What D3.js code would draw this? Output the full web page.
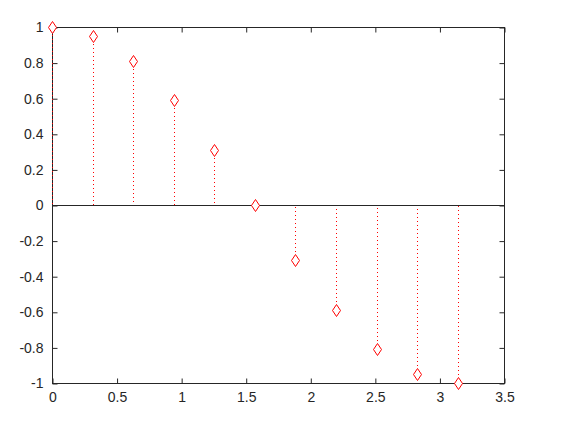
<!DOCTYPE html>
<html>
<head>
<meta charset="utf-8">
<script src="https://cdn.jsdelivr.net/npm/d3@7"></script>
<style>
  body { margin: 0; background: #fff; }
</style>
</head>
<body>
<div id="chart"></div>
<script>
// 標本点とその値 (cos x, 0..pi を11点)
var xVals = [0, 0.3142, 0.6283, 0.9425, 1.2566, 1.5708, 1.8850, 2.1991, 2.5133, 2.8274, 3.1416];
var yVals = [1, 0.951, 0.809, 0.588, 0.309, 0, -0.309, -0.588, -0.809, -0.951, -1];
var xTicks = [0, 0.5, 1, 1.5, 2, 2.5, 3, 3.5];
var yTicks = [-1, -0.8, -0.6, -0.4, -0.2, 0, 0.2, 0.4, 0.6, 0.8, 1];

var W = 570, H = 423;
var margin = {top: 27, right: 66, bottom: 40, left: 52};
var axisColor = "#262626";

var svg = d3.select("#chart").append("svg")
    .attr("width", W).attr("height", H);

var x = d3.scaleLinear().domain([0, 3.5]).range([margin.left, W - margin.right]);
var y = d3.scaleLinear().domain([-1, 1]).range([H - margin.bottom, margin.top]);

// 枠の描画
svg.append("rect")
    .attr("x", x(0) + 0.5).attr("y", y(1) + 0.5)
    .attr("width", x(3.5) - x(0)).attr("height", y(-1) - y(1))
    .attr("fill", "none").attr("stroke", axisColor).attr("stroke-width", 1);

function styleAxis(g) {
    g.select(".domain").remove();
    g.selectAll("line").attr("stroke", axisColor);
    g.selectAll("text").attr("fill", axisColor)
        .style("font-family", "'Liberation Sans', sans-serif").style("font-size", "14px");
}

var fmt = function(d){ return String(d); };

svg.append("g")
    .attr("transform", "translate(0.5," + (y(-1) + 0.5) + ")")
    .call(d3.axisBottom(x).tickValues(xTicks).tickFormat(fmt).tickSizeInner(-5).tickPadding(9))
    .call(styleAxis);
svg.append("g")
    .attr("transform", "translate(0.5," + (y(1) + 0.5) + ")")
    .call(d3.axisTop(x).tickValues(xTicks).tickFormat("").tickSizeInner(-5))
    .call(styleAxis);
svg.append("g")
    .attr("transform", "translate(" + (x(0) + 0.5) + ",0.5)")
    .call(d3.axisLeft(y).tickValues(yTicks).tickFormat(fmt).tickSizeInner(-5).tickPadding(9))
    .call(styleAxis);
svg.append("g")
    .attr("transform", "translate(" + (x(3.5) + 0.5) + ",0.5)")
    .call(d3.axisRight(y).tickValues(yTicks).tickFormat("").tickSizeInner(-5))
    .call(styleAxis);

var data = xVals.map(function(d, i){ return {x: d, y: yVals[i]}; });

// ステム (マーカー側から点線を引く)
svg.append("g").selectAll("line")
    .data(data).enter().append("line")
    .attr("x1", function(d){ return Math.round(x(d.x)) + 0.5; })
    .attr("x2", function(d){ return Math.round(x(d.x)) + 0.5; })
    .attr("y1", function(d){ return Math.round(y(d.y)); })
    .attr("y2", Math.round(y(0)))
    .attr("stroke", "red").attr("stroke-width", 1)
    .attr("stroke-dasharray", "1,3");

// ベースライン
svg.append("line")
    .attr("x1", x(0)).attr("x2", x(3.5))
    .attr("y1", y(0) + 0.5).attr("y2", y(0) + 0.5)
    .attr("stroke", axisColor).attr("stroke-width", 1);

// ひし形マーカー
svg.append("g").selectAll("path")
    .data(data).enter().append("path")
    .attr("transform", function(d){ return "translate(" + (Math.round(x(d.x)) + 0.5) + "," + (Math.round(y(d.y)) + 0.5) + ")"; })
    .attr("d", "M0,-6L4,0L0,6L-4,0Z")
    .attr("fill", "white").attr("stroke", "red").attr("stroke-width", 1);
</script>
</body>
</html>
